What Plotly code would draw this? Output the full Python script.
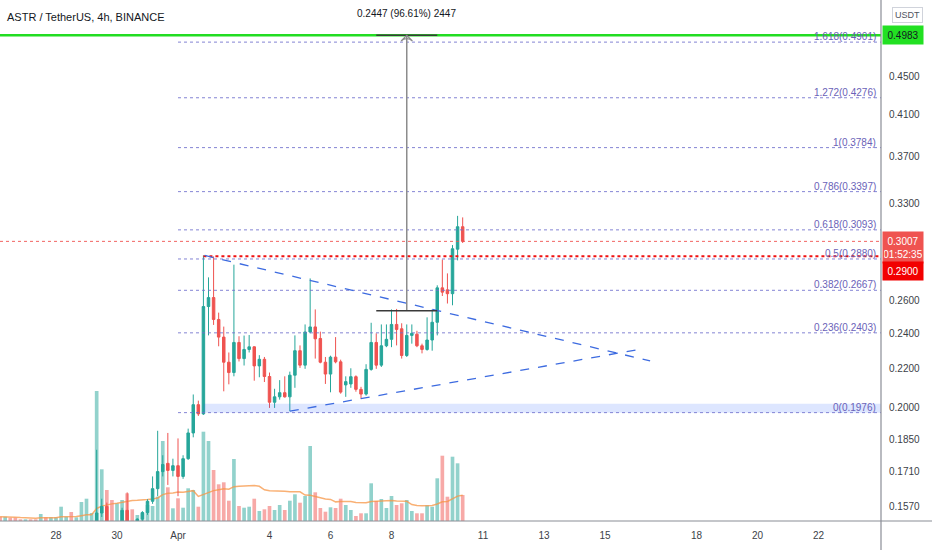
import numpy as np
import pandas as pd
import plotly.graph_objects as go

# ASTR/USDT 4h candles
times = pd.date_range("2022-03-26 04:00", periods=92, freq="4h")

opens = [0.1470, 0.1462, 0.1472, 0.1465, 0.1458, 0.1455, 0.1461, 0.1454, 0.1449, 0.1468,
         0.1462, 0.1469, 0.1474, 0.1486, 0.1488, 0.1476, 0.1481, 0.1492, 0.1497, 0.1499,
         0.1545, 0.1570, 0.1500, 0.1480, 0.1495, 0.1555, 0.1500, 0.1488, 0.1522, 0.1547,
         0.1590, 0.1640, 0.1710, 0.1745, 0.1715, 0.1735, 0.1690, 0.1765, 0.1880, 0.2015,
         0.1970, 0.2563, 0.2620, 0.2483, 0.2378, 0.2236, 0.2180, 0.2347, 0.2256, 0.2307,
         0.2322, 0.2216, 0.2252, 0.2159, 0.2027, 0.2054, 0.2075, 0.2054, 0.2166, 0.2300,
         0.2220, 0.2408, 0.2438, 0.2370, 0.2236, 0.2172, 0.2264, 0.2238, 0.2115, 0.2120,
         0.2158, 0.2092, 0.2068, 0.2197, 0.2347, 0.2220, 0.2328, 0.2365, 0.2453, 0.2427,
         0.2273, 0.2388, 0.2395, 0.2328, 0.2307, 0.2361, 0.2466, 0.2683, 0.2670, 0.2645,
         0.2950, 0.3117]
highs = [0.1485, 0.1480, 0.1478, 0.1470, 0.1463, 0.1465, 0.1464, 0.1458, 0.1475, 0.1472,
         0.1474, 0.1478, 0.1495, 0.1492, 0.1494, 0.1485, 0.1499, 0.1500, 0.1500, 0.1804,
         0.1600, 0.1585, 0.1505, 0.1500, 0.1565, 0.1625, 0.1506, 0.1525, 0.1552, 0.1598,
         0.1690, 0.1890, 0.1780, 0.1880, 0.1765, 0.1855, 0.1780, 0.1900, 0.2066, 0.2035,
         0.2905, 0.2753, 0.2898, 0.2525, 0.2440, 0.2290, 0.2840, 0.2383, 0.2387, 0.2390,
         0.2325, 0.2275, 0.2265, 0.2180, 0.2095, 0.2140, 0.2160, 0.2185, 0.2388, 0.2330,
         0.2453, 0.2746, 0.2545, 0.2410, 0.2265, 0.2272, 0.2378, 0.2250, 0.2160, 0.2203,
         0.2165, 0.2105, 0.2225, 0.2463, 0.2400, 0.2453, 0.2453, 0.2545, 0.2548, 0.2460,
         0.2453, 0.2453, 0.2415, 0.2340, 0.2496, 0.2545, 0.2700, 0.2876, 0.2780, 0.2980,
         0.3201, 0.3189]
lows = [0.1455, 0.1455, 0.1458, 0.1452, 0.1450, 0.1452, 0.1450, 0.1445, 0.1446, 0.1458,
        0.1458, 0.1464, 0.1468, 0.1478, 0.1470, 0.1472, 0.1476, 0.1484, 0.1488, 0.1490,
        0.1530, 0.1480, 0.1470, 0.1470, 0.1488, 0.1490, 0.1478, 0.1482, 0.1505, 0.1538,
        0.1580, 0.1610, 0.1690, 0.1655, 0.1690, 0.1610, 0.1680, 0.1760, 0.1860, 0.1960,
        0.1965, 0.2388, 0.2450, 0.2325, 0.2082, 0.2118, 0.2160, 0.2240, 0.2218, 0.2290,
        0.2137, 0.2155, 0.2130, 0.1999, 0.1999, 0.2040, 0.2050, 0.1983, 0.2100, 0.2205,
        0.2200, 0.2400, 0.2256, 0.2230, 0.2120, 0.2077, 0.2230, 0.2070, 0.2054, 0.2100,
        0.2080, 0.2045, 0.2060, 0.2190, 0.2200, 0.2210, 0.2320, 0.2320, 0.2330, 0.2256,
        0.2265, 0.2340, 0.2320, 0.2285, 0.2300, 0.2300, 0.2388, 0.2630, 0.2582, 0.2571,
        0.2870, 0.2995]
closes = [0.1462, 0.1472, 0.1465, 0.1458, 0.1455, 0.1461, 0.1454, 0.1449, 0.1468, 0.1462,
          0.1469, 0.1474, 0.1486, 0.1488, 0.1476, 0.1481, 0.1492, 0.1497, 0.1499, 0.1545,
          0.1570, 0.1500, 0.1480, 0.1495, 0.1555, 0.1500, 0.1488, 0.1522, 0.1547, 0.1590,
          0.1640, 0.1710, 0.1740, 0.1715, 0.1735, 0.1690, 0.1765, 0.1880, 0.2015, 0.1970,
          0.2563, 0.2620, 0.2483, 0.2378, 0.2236, 0.2180, 0.2347, 0.2256, 0.2307, 0.2322,
          0.2216, 0.2252, 0.2159, 0.2027, 0.2054, 0.2075, 0.2054, 0.2166, 0.2300, 0.2220,
          0.2408, 0.2438, 0.2368, 0.2236, 0.2172, 0.2264, 0.2238, 0.2078, 0.2132, 0.2158,
          0.2092, 0.2068, 0.2197, 0.2347, 0.2220, 0.2328, 0.2365, 0.2453, 0.2423, 0.2273,
          0.2388, 0.2400, 0.2328, 0.2307, 0.2361, 0.2466, 0.2683, 0.2655, 0.2645, 0.2953,
          0.3117, 0.3007]
# volume in millions ASTR
volumes = [0.43, 0.43, 0.33, 0.33, 0.17, 0.17, 0.17, 0.17, 0.70, 0.37,
           0.37, 0.37, 1.43, 0.43, 0.90, 0.37, 1.90, 2.23, 0.80, 13.0,
           5.17, 3.10, 2.10, 1.77, 2.10, 2.77, 1.17, 0.60, 0.77, 1.60,
           1.50, 2.43, 8.00, 3.37, 1.27, 2.27, 1.33, 3.27, 3.10, 1.43,
           8.93, 8.00, 5.10, 3.67, 3.87, 2.03, 6.20, 1.50, 1.33, 1.43,
           2.23, 1.00, 1.17, 1.50, 1.10, 1.60, 1.10, 2.03, 2.67, 1.83,
           2.50, 7.50, 2.87, 1.30, 0.93, 1.37, 1.30, 2.23, 1.60, 1.10,
           0.50, 0.77, 0.77, 3.77, 2.00, 2.20, 1.30, 2.50, 1.60, 1.77,
           2.10, 1.00, 0.77, 0.77, 1.57, 1.43, 4.27, 6.53, 2.43, 6.43,
           5.77, 2.60]

# drawings
fib_ratios = ["0", "0.236", "0.382", "0.5", "0.618", "0.786", "1", "1.272", "1.618"]
fib_prices = [0.1976, 0.2403, 0.2667, 0.2880, 0.3093, 0.3397, 0.3784, 0.4276, 0.4901]
fib_start = "2022-04-01 00:00"

tri_upper_t = ["2022-04-01 21:00", "2022-04-16 11:30"]
tri_upper_p = [0.2905, 0.2243]
tri_lower_t = ["2022-04-04 16:00", "2022-04-16 05:00"]
tri_lower_p = [0.1983, 0.2310]

zone_start = "2022-04-01 20:00"
zone_low, zone_high = 0.1976, 0.2019
level_290 = 0.2900
last_price = 0.3007
target_price = 0.4983

meas_t = ["2022-04-07 12:00", "2022-04-09 12:00"]
meas_mid = "2022-04-08 12:00"
meas_low = 0.2536
meas_label = "0.2447 (96.61%) 2447"

x_range = ["2022-03-26 03:56", "2022-04-24 01:10"]
price_top, price_bottom = 0.5434, 0.1515

xtick_vals = ["2022-03-28", "2022-03-30", "2022-04-01", "2022-04-04", "2022-04-06", "2022-04-08",
              "2022-04-11", "2022-04-13", "2022-04-15", "2022-04-18", "2022-04-20", "2022-04-22"]
xtick_text = ["28", "30", "Apr", "4", "6", "8", "11", "13", "15", "18", "20", "22"]
ytick_vals = [0.45, 0.41, 0.37, 0.33, 0.26, 0.24, 0.22, 0.20, 0.185, 0.171, 0.157]

UP, DOWN = "#26a69a", "#ef5350"
FONT = "Liberation Sans Narrow, Liberation Sans, Arial"
FIB_LINE = "rgba(110,110,205,0.85)"
FIB_TEXT = "#6a62b8"

vol_colors = ["rgba(38,166,154,0.5)" if c >= o else "rgba(239,83,80,0.5)"
              for o, c in zip(opens, closes)]
vol_ma = pd.Series(volumes).rolling(20, min_periods=1).mean()

fig = go.Figure()

# volume panel (base axis, drawn underneath)
fig.add_trace(go.Bar(x=times, y=volumes, marker_color=vol_colors, marker_line_width=0,
                     width=0.72 * 4 * 3600 * 1000, yaxis="y", hoverinfo="skip"))
fig.add_trace(go.Scatter(x=times, y=vol_ma, mode="lines", yaxis="y",
                         line=dict(color="rgba(247,150,70,0.75)", width=1.5), hoverinfo="skip"))

# support zone
fig.add_trace(go.Scatter(x=[zone_start, x_range[1], x_range[1], zone_start, zone_start],
                         y=[zone_low, zone_low, zone_high, zone_high, zone_low],
                         mode="lines", fill="toself", fillcolor="rgba(41,98,255,0.16)",
                         line=dict(width=0), yaxis="y2", hoverinfo="skip"))

# fib levels
for p in fib_prices:
    fig.add_trace(go.Scatter(x=[fib_start, x_range[1]], y=[p, p], mode="lines", yaxis="y2",
                             line=dict(color=FIB_LINE, width=1, dash="dot"), hoverinfo="skip"))

# price lines
fig.add_trace(go.Scatter(x=x_range, y=[last_price, last_price], mode="lines", yaxis="y2",
                         line=dict(color="rgba(239,83,80,0.9)", width=1, dash="dot"), hoverinfo="skip"))
fig.add_trace(go.Scatter(x=[zone_start, x_range[1]], y=[level_290, level_290], mode="lines", yaxis="y2",
                         line=dict(color="#f01010", width=2, dash="dot"), hoverinfo="skip"))
fig.add_trace(go.Scatter(x=x_range, y=[target_price, target_price], mode="lines", yaxis="y2",
                         line=dict(color="#22dd22", width=2.5), hoverinfo="skip"))

# triangle
for tx, ty in [(tri_upper_t, tri_upper_p), (tri_lower_t, tri_lower_p)]:
    fig.add_trace(go.Scatter(x=tx, y=ty, mode="lines", yaxis="y2",
                             line=dict(color="#3d6be0", width=1.3, dash="dash"), hoverinfo="skip"))

# candles
fig.add_trace(go.Candlestick(x=times, open=opens, high=highs, low=lows, close=closes, yaxis="y2",
                             increasing=dict(line=dict(color=UP, width=1), fillcolor=UP),
                             decreasing=dict(line=dict(color=DOWN, width=1), fillcolor=DOWN),
                             hoverinfo="skip"))

# measure tool
fig.add_trace(go.Scatter(x=[meas_mid, meas_mid], y=[meas_low, target_price], mode="lines", yaxis="y2",
                         line=dict(color="#8c8c8c", width=1.5), hoverinfo="skip"))
for p in [meas_low, target_price]:
    fig.add_trace(go.Scatter(x=meas_t, y=[p, p], mode="lines", yaxis="y2",
                             line=dict(color="#3a3a3a", width=1.5), hoverinfo="skip"))
fig.add_trace(go.Scatter(x=[meas_mid], y=[target_price], mode="markers", yaxis="y2",
                         marker=dict(symbol="arrow-wide-open", size=8, color="#8c8c8c",
                                     line=dict(color="#8c8c8c", width=1.3)),
                         hoverinfo="skip"))

annotations = []
# fib labels
for r, p in zip(fib_ratios, fib_prices):
    annotations.append(dict(x=1, xref="paper", xanchor="right", xshift=-3,
                            y=np.log10(p), yref="y2", yanchor="bottom", yshift=-2,
                            text=f"{r}({p:.4f})", showarrow=False,
                            font=dict(family=FONT, size=10, color=FIB_TEXT)))

# measure label
annotations.append(dict(x=meas_mid, xref="x", y=1, yref="paper", yanchor="top", yshift=-6,
                        text=meas_label, showarrow=False,
                        font=dict(family=FONT, size=10, color="#131722")))

# title
annotations.append(dict(x=0, xref="paper", xanchor="left", xshift=5, y=1, yref="paper",
                        yanchor="top", yshift=-9, text="ASTR / TetherUS, 4h, BINANCE",
                        showarrow=False, font=dict(family=FONT, size=11, color="#131722")))

# price-axis labels
axis_labels = [
    (target_price, f"{target_price:.4f}", "#22e022", "#131722", 0, 16),
    (last_price, f"{last_price:.4f}<br>01:52:35", "#ef5350", "white", -6, 29),
    (level_290, f"{level_290:.4f}", "#f20000", "white", -15, 16),
]
for p, txt, bg, fc, shift, h in axis_labels:
    annotations.append(dict(x=1, xref="paper", xanchor="left", xshift=1,
                            y=np.log10(p), yref="y2", yanchor="middle", yshift=shift,
                            text=txt, showarrow=False, bgcolor=bg, width=38, height=h,
                            font=dict(family=FONT, size=10, color=fc)))

# USDT button
annotations.append(dict(x=1, xref="paper", xanchor="left", xshift=11, y=1, yref="paper",
                        yanchor="top", yshift=-7, text="USDT", showarrow=False,
                        bordercolor="#d0d3db", borderwidth=1, borderpad=2, bgcolor="white",
                        font=dict(family=FONT, size=9, color="#50535e")))

fig.update_layout(
    width=932, height=550,
    margin=dict(l=0, r=51, t=0, b=29),
    paper_bgcolor="white", plot_bgcolor="white",
    showlegend=False,
    hovermode=False,
    font=dict(family=FONT, size=10, color="#3c3f48"),
    xaxis=dict(type="date", range=x_range, rangeslider=dict(visible=False),
               tickvals=xtick_vals, ticktext=xtick_text, showgrid=False, zeroline=False,
               ticks="", ticklabelstandoff=7, tickfont=dict(size=10, color="#3c3f48")),
    yaxis=dict(range=[0, 52.1], visible=False, fixedrange=True),
    yaxis2=dict(type="log", overlaying="y", side="right",
                range=[np.log10(price_bottom), np.log10(price_top)],
                tickvals=ytick_vals, ticktext=[f"{v:.4f}" for v in ytick_vals],
                showgrid=False, zeroline=False, ticks="", ticklabelstandoff=7,
                tickfont=dict(size=10, color="#3c3f48")),
    annotations=annotations,
    shapes=[
        dict(type="line", xref="paper", yref="paper", x0=0, x1=1.06, y0=0, y1=0,
             line=dict(color="#8a8d96", width=1.2)),
        dict(type="line", xref="paper", yref="paper", x0=1, x1=1, y0=-0.06, y1=1,
             line=dict(color="#8a8d96", width=1.2)),
    ],
)

fig.write_html("out.html", config={"displayModeBar": False},
               post_script="document.body.style.margin='0';")
